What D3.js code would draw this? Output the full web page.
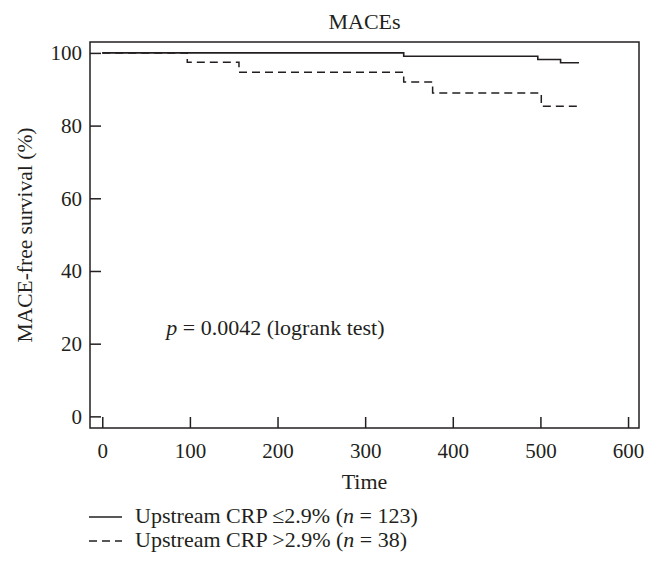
<!DOCTYPE html>
<html>
<head>
<meta charset="utf-8">
<script src="https://cdn.jsdelivr.net/npm/d3@7"></script>
<style>
  body { margin: 0; background: #fff; }
  text { font-family: "Liberation Serif", "DejaVu Serif", serif; fill: #231f20; }
</style>
</head>
<body>
<div id="root"><svg></svg></div>
<script>
const width = 656, height = 579;
const margin = {top: 42, right: 17, bottom: 151, left: 90};

// Kaplan-Meier steps
const lowTimes = [0, 344, 497, 523, 544];
const lowSurv  = [100, 99.1, 98.2, 97.3, 97.3];
const highTimes = [0, 97, 156, 344, 377, 501, 544];
const highSurv  = [100, 97.4, 94.7, 92.0, 89.0, 85.3, 85.3];

const xTicks = [0, 100, 200, 300, 400, 500, 600];
const yTicks = [0, 20, 40, 60, 80, 100];

const legendLabels = [
    {pre: 'Upstream CRP \u22642.9% (', n: '123', dash: null},
    {pre: 'Upstream CRP >2.9% (', n: '38', dash: '8,5'}
];

const ink = '#231f20';
const tickSize = 21, textSize = 22;

const svg = d3.select('#root').select('svg')
    .attr('width', width)
    .attr('height', height);

const x = d3.scaleLinear()
    .domain([-14, 612.5])
    .range([margin.left, width - margin.right]);
const y = d3.scaleLinear()
    .domain([-3.2, 103])
    .range([height - margin.bottom, margin.top]);

// axes with inward ticks
const xAxis = svg.append('g')
    .attr('transform', `translate(0,${height - margin.bottom})`)
    .call(d3.axisBottom(x).tickValues(xTicks).tickSizeInner(-11).tickSizeOuter(0).tickPadding(15));
const yAxis = svg.append('g')
    .attr('transform', `translate(${margin.left},0)`)
    .call(d3.axisLeft(y).tickValues(yTicks).tickSizeInner(-11).tickSizeOuter(0).tickPadding(8));

[xAxis, yAxis].forEach(g => {
    g.select('.domain').remove();
    g.selectAll('line').attr('stroke', ink).attr('stroke-width', 1.5);
    g.selectAll('text')
        .attr('font-family', '"Liberation Serif", serif')
        .attr('font-size', tickSize)
        .attr('fill', ink);
});

// frame
svg.append('rect')
    .attr('x', margin.left)
    .attr('y', margin.top)
    .attr('width', width - margin.left - margin.right)
    .attr('height', height - margin.top - margin.bottom)
    .attr('fill', 'none')
    .attr('stroke', ink)
    .attr('stroke-width', 1.5);

const line = d3.line()
    .x(d => x(d[0]))
    .y(d => y(d[1]))
    .curve(d3.curveStepAfter);

svg.append('path')
    .datum(d3.zip(highTimes, highSurv))
    .attr('d', line)
    .attr('fill', 'none')
    .attr('stroke', ink)
    .attr('stroke-width', 1.5)
    .attr('stroke-dasharray', '8,5');

svg.append('path')
    .datum(d3.zip(lowTimes, lowSurv))
    .attr('d', line)
    .attr('fill', 'none')
    .attr('stroke', ink)
    .attr('stroke-width', 1.6);

// title and axis labels
svg.append('text')
    .attr('x', (margin.left + width - margin.right) / 2)
    .attr('y', 29)
    .attr('text-anchor', 'middle')
    .attr('font-size', textSize)
    .text('MACEs');

svg.append('text')
    .attr('x', (margin.left + width - margin.right) / 2)
    .attr('y', 489)
    .attr('text-anchor', 'middle')
    .attr('font-size', textSize)
    .text('Time');

svg.append('text')
    .attr('transform', `translate(32,${(margin.top + height - margin.bottom) / 2}) rotate(-90)`)
    .attr('text-anchor', 'middle')
    .attr('font-size', 21.5)
    .text('MACE-free survival (%)');

// logrank annotation
const ptext = svg.append('text')
    .attr('x', x(73))
    .attr('y', y(22.3))
    .attr('font-size', textSize);
ptext.append('tspan').attr('font-style', 'italic').text('p');
ptext.append('tspan').text(' = 0.0042 (logrank test)');

// legend
const legend = svg.append('g');
legendLabels.forEach((d, i) => {
    const ly = 517 + i * 24;
    legend.append('line')
        .attr('x1', 89).attr('x2', 122)
        .attr('y1', ly).attr('y2', ly)
        .attr('stroke', ink)
        .attr('stroke-width', 1.5)
        .attr('stroke-dasharray', d.dash);
    const t = legend.append('text')
        .attr('x', 135)
        .attr('y', ly + 6)
        .attr('font-size', textSize);
    t.append('tspan').text(d.pre);
    t.append('tspan').attr('font-style', 'italic').text('n');
    t.append('tspan').text(' = ' + d.n + ')');
});
</script>
</body>
</html>
